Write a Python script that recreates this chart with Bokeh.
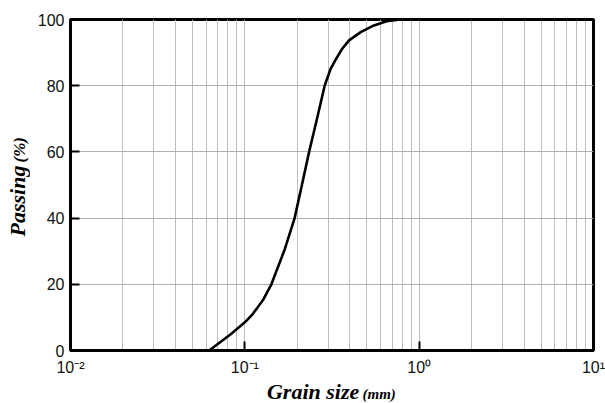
import math
from bokeh.plotting import figure
from bokeh.models import FixedTicker, Range1d
from bokeh.layouts import row, column
from bokeh.core.properties import value
from bokeh.embed import file_html
from bokeh.resources import INLINE

# Data
grain_size = [0.0624, 0.083, 0.100, 0.111, 0.128, 0.142, 0.1695, 0.193, 0.2125,
              0.2337, 0.2586, 0.287, 0.31, 0.333, 0.36, 0.396, 0.462, 0.55, 0.65, 0.78, 10.0]
passing = [0.0, 4.9, 8.5, 11.0, 15.5, 20.0, 30.6, 40.0, 50.0,
           60.0, 69.7, 80.0, 85.0, 88.0, 91.0, 93.7, 96.2, 98.2, 99.5, 100.0, 100.0]

x_major = [0.01, 0.1, 1.0, 10.0]
x_minor = [m * d for d in (0.01, 0.1, 1.0) for m in range(2, 10)]
x_tick_labels = {0.01: "10\u207b\u00b2", 0.1: "10\u207b\u00b9", 1.0: "10\u2070", 10.0: "10\u00b9"}
y_major = [0, 20, 40, 60, 80, 100]

x_title = "Grain size"
x_unit = "(mm)"
y_title = "Passing"
y_unit = "(%)"

LEFT_W = 30
MAIN_W = 605 - LEFT_W
MAIN_H = 378
BOT_H = 403 - MAIN_H

p = figure(width=MAIN_W, height=MAIN_H, x_axis_type="log", title=None,
           x_range=Range1d(0.01, 10), y_range=Range1d(0, 100),
           output_backend="svg", toolbar_location=None,
           min_border_left=70 - LEFT_W, min_border_right=12,
           min_border_top=19, min_border_bottom=26)
p.background_fill_color = "white"
p.border_fill_color = "white"
p.outline_line_color = "black"
p.outline_line_width = 3

p.xaxis.ticker = FixedTicker(ticks=x_major, minor_ticks=x_minor)
p.yaxis.ticker = FixedTicker(ticks=y_major)
p.xaxis.major_label_overrides = x_tick_labels

for ax in (p.xaxis[0], p.yaxis[0]):
    ax.axis_line_width = 3
    ax.axis_line_color = "black"
    ax.major_tick_in = 9
    ax.major_tick_out = 0
    ax.major_tick_line_width = 2
    ax.minor_tick_line_color = None
    ax.major_label_text_font = "Liberation Sans"
    ax.major_label_text_font_size = "16px"
    ax.major_label_text_color = "#111111"
p.xaxis.major_label_standoff = 4
p.yaxis.major_label_standoff = 6

p.xgrid.grid_line_color = "#bdbdbd"
p.xgrid.grid_line_width = 1
p.xgrid.minor_grid_line_color = "#bdbdbd"
p.xgrid.minor_grid_line_width = 1
p.ygrid.grid_line_color = "#b0b0b0"
p.ygrid.grid_line_width = 1

p.line(grain_size, passing, line_color="black", line_width=2.6)

font = value("Liberation Serif")


def label_fig(w, h):
    f = figure(width=w, height=h, x_range=Range1d(0, w), y_range=Range1d(0, h),
               title=None, output_backend="svg", toolbar_location=None,
               x_axis_location=None, y_axis_location=None,
               min_border=0, min_border_left=0, min_border_right=0,
               min_border_top=0, min_border_bottom=0)
    f.grid.visible = False
    f.outline_line_color = None
    f.background_fill_color = "white"
    f.border_fill_color = "white"
    return f


# x-axis title (below the plot)
xl = label_fig(MAIN_W, BOT_H)
xl.text(x=[216], y=[12], text=[x_title], text_font=font, text_font_style="bold italic",
        text_font_size="22px", text_color="black", text_align="left",
        text_baseline="middle")
xl.text(x=[321], y=[10], text=[x_unit], text_font=font, text_font_style="bold italic",
        text_font_size="15px", text_color="black", text_align="left",
        text_baseline="middle")

# y-axis title (left of the plot), rotated
yl = label_fig(LEFT_W, 403)
yl.text(x=[17], y=[403 - 236], text=[y_title], text_font=font, text_font_style="bold italic",
        text_font_size="22px", text_color="black", angle=math.pi / 2,
        text_align="left", text_baseline="middle")
yl.text(x=[19], y=[403 - 162], text=[y_unit], text_font=font, text_font_style="bold italic",
        text_font_size="17px", text_color="black", angle=math.pi / 2,
        text_align="left", text_baseline="middle")

layout = row(yl, column(p, xl, spacing=0), spacing=0)

open("out.html", "w").write(file_html(layout, INLINE))
